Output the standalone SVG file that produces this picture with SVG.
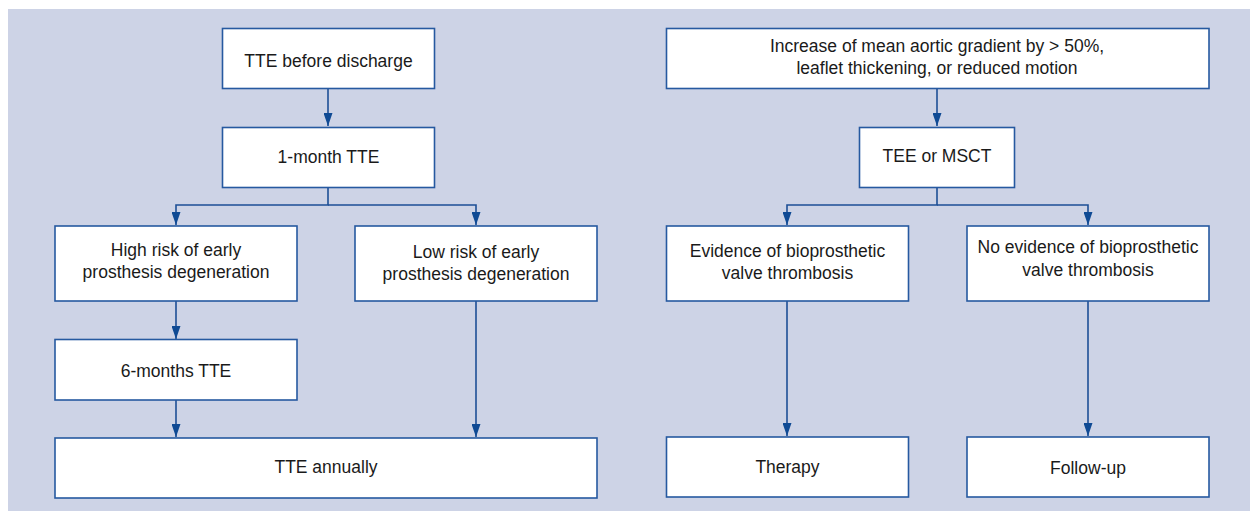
<svg xmlns="http://www.w3.org/2000/svg" width="1250" height="511" viewBox="0 0 1250 511">
<style>
.box{fill:#ffffff;stroke:#2659a0;stroke-width:1.6}
.t{font-family:"Liberation Sans",Arial,sans-serif;font-size:17.5px;fill:#1a1a1a;text-anchor:middle}
.c{fill:none;stroke:#1d4f96;stroke-width:1.6}
</style>
<defs>
<marker id="ah" markerWidth="13" markerHeight="9" refX="13" refY="4.5" orient="auto" markerUnits="userSpaceOnUse" viewBox="0 0 13 9">
<path d="M0,0 L13,4.5 L0,9 Z" fill="#0f4a94"/>
</marker>
</defs>
<rect x="0" y="0" width="1250" height="511" fill="#ffffff"/>
<rect x="8" y="9" width="1242" height="502" fill="#cdd3e6"/>
<g id="connectors">
<path class="c" d="M328,89 V126" marker-end="url(#ah)"/>
<path class="c" d="M328,187 V205 H176 V225" marker-end="url(#ah)"/>
<path class="c" d="M328,205 H476 V225" marker-end="url(#ah)"/>
<path class="c" d="M176,301 V339" marker-end="url(#ah)"/>
<path class="c" d="M176,400 V437" marker-end="url(#ah)"/>
<path class="c" d="M476,301 V437" marker-end="url(#ah)"/>
<path class="c" d="M937,89 V126" marker-end="url(#ah)"/>
<path class="c" d="M937,187 V205 H787 V225" marker-end="url(#ah)"/>
<path class="c" d="M937,205 H1088 V225" marker-end="url(#ah)"/>
<path class="c" d="M787,301 V436" marker-end="url(#ah)"/>
<path class="c" d="M1088,301 V436" marker-end="url(#ah)"/>
</g>
<g id="tte-discharge"><rect class="box" x="222.5" y="28.5" width="212" height="60"/><text class="t" x="328.5" y="67">TTE before discharge</text></g>
<g id="tte-1month"><rect class="box" x="222.5" y="127.5" width="212" height="60"/><text class="t" x="328.5" y="163">1-month TTE</text></g>
<g id="high-risk"><rect class="box" x="55" y="226" width="242" height="75"/><text class="t" x="176" y="256">High risk of early</text><text class="t" x="176" y="278">prosthesis degeneration</text></g>
<g id="low-risk"><rect class="box" x="355" y="226" width="242" height="75"/><text class="t" x="476" y="258">Low risk of early</text><text class="t" x="476" y="280">prosthesis degeneration</text></g>
<g id="tte-6months"><rect class="box" x="55" y="339.5" width="242" height="60.5"/><text class="t" x="176" y="377">6-months TTE</text></g>
<g id="tte-annually"><rect class="box" x="55" y="438" width="542" height="60"/><text class="t" x="326" y="473">TTE annually</text></g>
<g id="increase"><rect class="box" x="666.5" y="28.5" width="542.5" height="60"/><text class="t" x="937" y="52">Increase of mean aortic gradient by &gt; 50%,</text><text class="t" x="937" y="74">leaflet thickening, or reduced motion</text></g>
<g id="tee-msct"><rect class="box" x="859.5" y="127.5" width="155" height="60"/><text class="t" x="937" y="162">TEE or MSCT</text></g>
<g id="evidence"><rect class="box" x="666.5" y="226" width="242" height="75"/><text class="t" x="787.5" y="257">Evidence of bioprosthetic</text><text class="t" x="787.5" y="279">valve thrombosis</text></g>
<g id="no-evidence"><rect class="box" x="967" y="226" width="242" height="75"/><text class="t" x="1088" y="253">No evidence of bioprosthetic</text><text class="t" x="1088" y="276">valve thrombosis</text></g>
<g id="therapy"><rect class="box" x="666.5" y="437" width="242" height="60"/><text class="t" x="787.5" y="473">Therapy</text></g>
<g id="follow-up"><rect class="box" x="967" y="437" width="242" height="60"/><text class="t" x="1088" y="474">Follow-up</text></g>
</svg>
